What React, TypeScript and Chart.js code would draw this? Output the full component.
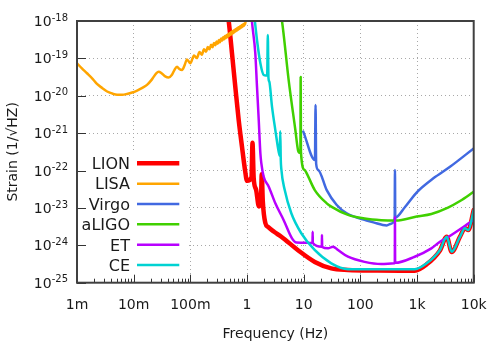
import React, { useEffect, useRef } from "react";
import { Chart, registerables } from "chart.js";

Chart.register(...registerables);

const FONT = '"DejaVu Sans", sans-serif';

// ---- axes ----
const X_MIN = 1e-3;
const X_MAX = 1e4;
const Y_MIN = 1e-25;
const Y_MAX = 1e-18;
const X_TICKS = [1e-3, 1e-2, 1e-1, 1, 10, 100, 1e3, 1e4];
const X_TICK_LABELS = ["1m", "10m", "100m", "1", "10", "100", "1k", "10k"];
const X_MINOR_STEPS = [2, 3, 4, 5, 6, 7, 8, 9];
const Y_TICKS = [1e-25, 1e-24, 1e-23, 1e-22, 1e-21, 1e-20, 1e-19, 1e-18];
const Y_TICK_EXPONENTS = ["-25", "-24", "-23", "-22", "-21", "-20", "-19", "-18"];
const X_TITLE = "Frequency (Hz)";
const Y_TITLE = "Strain (1/\u221AHZ)";

// ---- series: [frequency (Hz), strain] ----
const LION: [number, number][] = [
  [0.44, 2.0e-18], [0.475, 1.0e-18], [0.543, 1.37e-19], [0.621, 1.75e-20], [0.713, 2.25e-21],
  [0.816, 4.3e-22], [0.922, 1.03e-22], [1.0, 5.3e-23], [1.2, 6.5e-23], [1.25, 5.5e-22],
  [1.31, 6.5e-23], [1.45, 3.0e-23], [1.62, 1.1e-23], [1.76, 1.4e-23], [1.82, 8.0e-23],
  [1.9, 1.5e-23], [2.1, 4.0e-24], [2.35, 3.1e-24], [3.0, 2.3e-24], [4.03, 1.7e-24],
  [7.94, 7.4e-25], [15.7, 3.6e-25], [30.7, 2.42e-25], [60.5, 2.2e-25], [200, 2.12e-25],
  [500, 2.1e-25], [910, 2.1e-25], [1480, 3.1e-25], [2540, 7.3e-25], [3340, 1.7e-24],
  [4090, 6.6e-25], [5730, 1.7e-24], [7030, 2.85e-24], [8040, 2.55e-24], [10000, 8.8e-24],
];

const LISA: [number, number][] = [
  [0.001, 7.4e-20], [0.00122, 5.4e-20], [0.0015, 4.0e-20], [0.0019, 2.8e-20], [0.00225, 2.07e-20],
  [0.0028, 1.6e-20], [0.0034, 1.3e-20], [0.0042, 1.15e-20], [0.0051, 1.07e-20], [0.0063, 1.07e-20],
  [0.0076, 1.12e-20], [0.0094, 1.22e-20], [0.0115, 1.38e-20], [0.0142, 1.62e-20], [0.0172, 1.95e-20],
  [0.02, 2.5e-20], [0.0225, 3.2e-20], [0.025, 4.0e-20], [0.0277, 4.4e-20], [0.031, 4.0e-20],
  [0.036, 3.3e-20], [0.0415, 3.1e-20], [0.047, 3.6e-20], [0.052, 4.8e-20], [0.0582, 6.0e-20],
  [0.064, 5.2e-20], [0.0713, 4.9e-20], [0.079, 6.5e-20], [0.0873, 9.4e-20], [0.1, 7.4e-20],
  [0.116, 1.2e-19], [0.13, 1.02e-19], [0.145, 1.48e-19], [0.16, 1.26e-19], [0.174, 1.76e-19],
  [0.189, 1.5e-19], [0.203, 2.03e-19], [0.218, 1.75e-19], [0.232, 2.3e-19], [0.247, 2.0e-19],
  [0.261, 2.58e-19], [0.276, 2.24e-19], [0.29, 2.85e-19], [0.305, 2.48e-19], [0.319, 3.12e-19],
  [0.334, 2.72e-19], [0.348, 3.4e-19], [0.363, 2.97e-19], [0.377, 3.66e-19], [0.392, 3.2e-19],
  [0.406, 3.95e-19], [0.42, 3.45e-19], [0.435, 4.2e-19], [0.45, 3.7e-19], [0.464, 4.5e-19],
  [0.479, 3.95e-19], [0.493, 4.75e-19], [0.508, 4.2e-19], [0.522, 5.05e-19], [0.537, 4.45e-19],
  [0.551, 5.3e-19], [0.566, 4.7e-19], [0.58, 5.6e-19], [0.595, 4.95e-19], [0.609, 5.85e-19],
  [0.624, 5.2e-19], [0.638, 6.15e-19], [0.653, 5.45e-19], [0.667, 6.4e-19], [0.682, 5.7e-19],
  [0.696, 6.7e-19], [0.711, 5.95e-19], [0.725, 6.95e-19], [0.74, 6.2e-19], [0.754, 7.25e-19],
  [0.769, 6.45e-19], [0.783, 7.5e-19], [0.798, 6.7e-19], [0.812, 7.8e-19], [0.827, 6.95e-19],
  [0.841, 8.05e-19], [0.856, 7.2e-19], [0.87, 8.35e-19], [0.885, 7.45e-19], [0.9, 8.6e-19],
  [0.92, 7.9e-19], [0.95, 1.0e-18], [1.0, 1.05e-18],
];

const VIRGO: [number, number][] = [
  [9.84, 1.1e-21], [15.8, 1.9e-22], [16.2, 5.7e-21], [16.6, 1.5e-22], [18.1, 1.03e-22],
  [25.5, 3.0e-23], [38.3, 1.2e-23], [57.4, 7.2e-24], [129, 4.6e-24], [170, 4.1e-24],
  [292, 3.4e-24], [350, 3.8e-24], [403, 5.2e-24], [408, 1.03e-22], [413, 5.5e-24],
  [614, 1.06e-23], [1000, 2.66e-23], [1940, 6.2e-23], [3820, 1.26e-22], [10000, 3.9e-22],
];

const ALIGO: [number, number][] = [
  [3.9, 1.6e-18], [4.14, 1.0e-18], [5.45, 2.5e-20], [7.11, 1.25e-21], [7.94, 3.5e-22],
  [8.4, 3.0e-22], [8.75, 3.2e-22], [8.85, 3.2e-20], [8.95, 3.0e-22], [10.4, 1.03e-22],
  [11.3, 8.4e-23], [15.7, 3.0e-23], [25.5, 1.33e-23], [30.7, 1.08e-23], [60.5, 6.5e-24],
  [119, 5.2e-24], [234, 4.7e-24], [426, 4.6e-24], [986, 5.9e-24], [1790, 6.9e-24],
  [3520, 1.02e-23], [5740, 1.53e-23], [10000, 2.7e-23],
];

const ET: [number, number][] = [
  [1.18, 2.0e-18], [1.22, 1.0e-18], [1.4, 1.37e-19], [1.5, 1.75e-20], [1.61, 2.25e-21],
  [1.72, 2.9e-22], [1.79, 1.56e-22], [1.97, 6.8e-23], [2.42, 3.7e-23], [3.16, 1.33e-23],
  [4.44, 4.7e-24], [6.22, 1.54e-24], [7.47, 1.19e-24], [11.9, 1.17e-24], [14.3, 1.15e-24],
  [14.4, 2.3e-24], [14.5, 1.15e-24], [20.9, 9.1e-25], [21.0, 1.9e-24], [21.2, 9.0e-25],
  [26.9, 8.3e-25], [32.9, 9.2e-25], [40.3, 7.5e-25], [60.5, 4.95e-25], [119, 3.6e-25],
  [234, 3.15e-25], [400, 3.3e-25], [405, 3.3e-25], [408, 5.8e-24], [411, 3.4e-25],
  [910, 4.95e-25], [1790, 8.3e-25], [2540, 1.25e-24], [3520, 1.66e-24], [10000, 4.8e-24],
];

const CE: [number, number][] = [
  [1.33, 1.6e-18], [1.5, 3.1e-19], [1.72, 7.4e-20], [1.97, 3.6e-20], [2.16, 3.5e-20],
  [2.27, 3.6e-20], [2.33, 4.2e-19], [2.39, 3.0e-20], [2.47, 2.4e-20], [2.76, 5.1e-21],
  [3.16, 1.21e-21], [3.62, 3.2e-22], [3.78, 2.5e-22], [3.86, 1.13e-21], [3.94, 2.0e-22],
  [4.03, 1.1e-22], [4.63, 3.0e-23], [6.05, 7.2e-24], [9.07, 2.1e-24], [15.6, 7.5e-25],
  [30.7, 3.3e-25], [60.5, 2.3e-25], [200, 2.28e-25], [500, 2.28e-25], [910, 2.3e-25],
  [1480, 3.3e-25], [2540, 7.5e-25], [3340, 1.7e-24], [4090, 6.7e-25], [5730, 1.7e-24],
  [7030, 2.85e-24], [8040, 2.57e-24], [10000, 8.8e-24],
];

const SERIES_NAMES = ["LION", "LISA", "Virgo", "aLIGO", "ET", "CE"];
const SERIES_DATA = [LION, LISA, VIRGO, ALIGO, ET, CE];

// ---- styles ----
const SERIES_COLORS = ["#ff0000", "#ffa500", "#4169e1", "#40d000", "#b800ff", "#00d2d2"];
const SERIES_WIDTHS = [4.5, 2.5, 2.5, 2.5, 2.5, 2.5];

const decorPlugin = {
  id: "decor",
  afterDatasetsDraw(chart: any) {
    const { ctx, chartArea: a, scales } = chart;
    const xs = scales.x;
    const ys = scales.y;
    ctx.save();

    // legend background
    ctx.fillStyle = "#ffffff";
    ctx.fillRect(a.left + 1, 150, 108, a.bottom - 151);

    // ticks
    ctx.strokeStyle = "#333333";
    ctx.lineWidth = 1;
    ctx.beginPath();
    X_TICKS.forEach((v, i) => {
      const px = Math.round(xs.getPixelForValue(v)) + 0.5;
      ctx.moveTo(px, a.bottom);
      ctx.lineTo(px, a.bottom - 8);
      if (i < X_TICKS.length - 1) {
        X_MINOR_STEPS.forEach((m) => {
          const mx = Math.round(xs.getPixelForValue(v * m)) + 0.5;
          ctx.moveTo(mx, a.bottom);
          ctx.lineTo(mx, a.bottom - 4);
        });
      }
    });
    Y_TICKS.forEach((v) => {
      const py = Math.round(ys.getPixelForValue(v)) + 0.5;
      ctx.moveTo(a.left, py);
      ctx.lineTo(a.left + 9, py);
    });
    ctx.stroke();

    // frame
    ctx.strokeStyle = "#404040";
    ctx.lineWidth = 2;
    ctx.strokeRect(a.left, a.top, a.right - a.left, a.bottom - a.top);

    // tick labels
    ctx.fillStyle = "#1a1a1a";
    ctx.font = `14px ${FONT}`;
    ctx.textAlign = "center";
    ctx.textBaseline = "alphabetic";
    X_TICKS.forEach((v, i) => {
      ctx.fillText(X_TICK_LABELS[i], xs.getPixelForValue(v), 308.5);
    });
    Y_TICKS.forEach((v, i) => {
      const py = ys.getPixelForValue(v);
      ctx.textAlign = "right";
      ctx.font = `10px ${FONT}`;
      const sup = Y_TICK_EXPONENTS[i];
      const w = ctx.measureText(sup).width;
      ctx.fillText(sup, 68, py - 0.4);
      ctx.font = `14px ${FONT}`;
      ctx.fillText("10", 68 - w, py + 5.1);
    });

    // titles
    ctx.font = `14px ${FONT}`;
    ctx.textAlign = "center";
    ctx.fillText(X_TITLE, (a.left + a.right) / 2, 338);
    ctx.save();
    ctx.translate(17, (a.top + a.bottom) / 2);
    ctx.rotate(-Math.PI / 2);
    ctx.fillText(Y_TITLE, 0, 0);
    ctx.restore();

    // legend
    ctx.font = `16px ${FONT}`;
    ctx.textAlign = "right";
    SERIES_NAMES.forEach((name, i) => {
      const y = 163.3 + 20.35 * i;
      ctx.fillStyle = "#1a1a1a";
      ctx.fillText(name, 130, y + 5.8);
      ctx.strokeStyle = SERIES_COLORS[i];
      ctx.lineWidth = SERIES_WIDTHS[i];
      ctx.beginPath();
      ctx.moveTo(137, y);
      ctx.lineTo(179.3, y);
      ctx.stroke();
    });

    ctx.restore();
  },
};

export default function App() {
  const canvasRef = useRef<HTMLCanvasElement | null>(null);

  useEffect(() => {
    const canvas = canvasRef.current;
    if (!canvas) return;
    const chart = new Chart(canvas, {
      type: "line",
      data: {
        datasets: SERIES_NAMES.map((name, i) => ({
          label: name,
          data: SERIES_DATA[i].map(([f, s]) => ({ x: f, y: s })),
          borderColor: SERIES_COLORS[i],
          backgroundColor: SERIES_COLORS[i],
          borderWidth: SERIES_WIDTHS[i],
          pointRadius: 0,
          cubicInterpolationMode: "monotone",
          borderJoinStyle: "round",
          borderCapStyle: "round",
          fill: false,
          clip: 0,
          order: SERIES_NAMES.length - i,
        })),
      },
      options: {
        animation: false,
        responsive: false,
        devicePixelRatio: 1,
        events: [],
        layout: { padding: { top: 21, right: 24.3, left: 0, bottom: 0 } },
        plugins: { legend: { display: false }, tooltip: { enabled: false } },
        scales: {
          x: {
            type: "logarithmic",
            min: X_MIN,
            max: X_MAX,
            afterBuildTicks: (scale: any) => {
              scale.ticks = X_TICKS.map((v) => ({ value: v }));
            },
            afterFit: (scale: any) => {
              scale.height = 64.3;
            },
            ticks: { display: false },
            grid: { color: "#a8a8a8", lineWidth: 1, drawTicks: false },
            border: { display: false, dash: [1, 3] },
          },
          y: {
            type: "logarithmic",
            min: Y_MIN,
            max: Y_MAX,
            afterBuildTicks: (scale: any) => {
              scale.ticks = Y_TICKS.map((v) => ({ value: v }));
            },
            afterFit: (scale: any) => {
              scale.width = 77;
            },
            ticks: { display: false },
            grid: { color: "#a8a8a8", lineWidth: 1, drawTicks: false },
            border: { display: false, dash: [1, 3] },
          },
        },
      },
      plugins: [decorPlugin],
    } as any);
    return () => chart.destroy();
  }, []);

  return (
    <div style={{ position: "absolute", left: 0, top: 0, width: 498, height: 347, background: "#fff" }}>
      <canvas ref={canvasRef} width={498} height={347} style={{ display: "block" }} />
    </div>
  );
}
